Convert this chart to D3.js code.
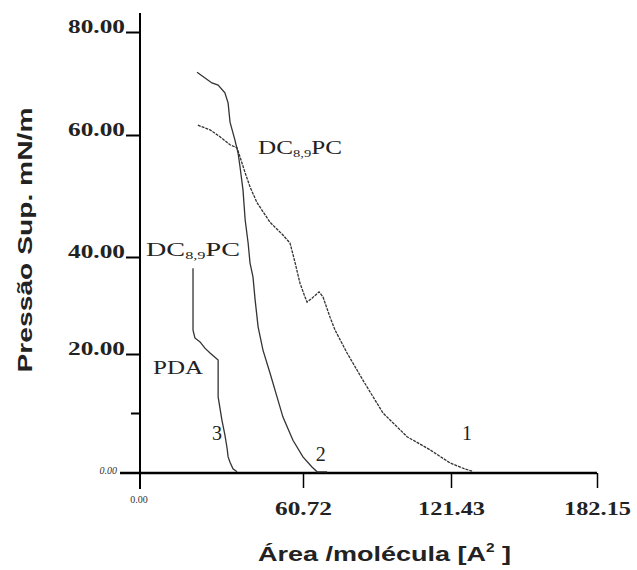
<!DOCTYPE html>
<html>
<head>
<meta charset="utf-8">
<script src="https://cdn.jsdelivr.net/npm/d3@7"></script>
<style>
  html, body { margin: 0; padding: 0; background: #fff; }
  svg { display: block; }
</style>
</head>
<body>
<div id="chart"></div>
<script>
// ---- data (area Å², surface pressure mN/m) ----
const xTickValues = [0, 60.72, 121.43, 182.15];
const xTickLabels = ["0.00", "60.72", "121.43", "182.15"];
const yTickValues = [0, 20, 40, 60, 80];
const yTickLabels = ["0.00", "20.00", "40.00", "60.00", "80.00"];

const curve1Area = [21.8, 26.3, 30.0, 33.7, 36.3, 39.3, 41.1, 43.7, 48.5, 53.3, 55.9, 57.8, 59.6, 61.5, 62.4, 64.4, 67.3, 68.9, 71.8, 73.9, 78.8, 85.3, 93.5, 103.4, 112.8, 121.0, 126.4, 130.2];
const curve1Pres = [61.9, 61.0, 59.7, 58.4, 57.9, 53.8, 51.5, 48.9, 45.7, 43.6, 42.3, 38.8, 34.6, 31.8, 30.7, 31.5, 32.8, 31.8, 27.6, 24.9, 20.2, 15.6, 10.1, 6.1, 3.9, 1.7, 0.8, 0.3];

const curve2Area = [21.5, 27.0, 29.3, 31.8, 33.0, 33.7, 35.5, 36.7, 37.4, 38.5, 39.3, 40.4, 41.1, 42.2, 43.0, 44.1, 45.9, 48.5, 51.1, 53.3, 57.0, 60.7, 64.4, 66.5, 70.6];
const curve2Pres = [72.2, 70.1, 69.7, 68.2, 66.2, 62.5, 59.2, 57.0, 54.8, 51.0, 46.1, 42.3, 38.8, 35.9, 31.1, 25.6, 20.8, 16.8, 12.8, 9.4, 5.5, 2.7, 1.0, 0.2, 0.2];

const curve3Area = [20.0, 20.0, 20.0, 20.7, 22.6, 24.4, 26.3, 29.3, 29.3, 30.7, 31.8, 32.6, 33.0, 33.7, 34.8, 36.3];
const curve3Pres = [37.7, 33.8, 24.9, 23.3, 22.5, 21.2, 20.2, 19.0, 12.8, 8.9, 6.4, 4.2, 2.7, 1.8, 0.7, 0.2];

const curveNumbers = ["1", "2", "3"];
const curveNumberAt = [[126, 5.5], [66, 2.0], [27, 5.5]];

// ---- layout ----
const W = 637, H = 570;
const svg = d3.select("#chart").append("svg").attr("width", W).attr("height", H);

// the scanned figure has slightly uneven tick spacing: piecewise linear scales
const x = d3.scaleLinear().domain(xTickValues).range([139, 303, 451, 597]);
const y = d3.scaleLinear().domain(yTickValues).range([473, 354, 257, 135, 32]);

const serifBold = "'Liberation Serif', 'Times New Roman', serif";
const sansBold = "'Liberation Sans', Arial, sans-serif";

// ---- axes ----
const yAxis = d3.axisLeft(y)
  .tickValues([20, 40, 60, 80])
  .tickSize(14)
  .tickFormat((d) => yTickLabels[yTickValues.indexOf(d)]);
const gy = svg.append("g").attr("transform", "translate(140,0)").call(yAxis);
gy.select(".domain").remove();
gy.selectAll(".tick line").attr("stroke", "#000").attr("stroke-width", 2);
gy.selectAll(".tick text")
  .attr("x", -15).attr("dy", 0)
  .attr("font-family", serifBold).attr("font-weight", "bold")
  .attr("font-size", 19).attr("fill", "#222")
  .attr("textLength", 57).attr("lengthAdjust", "spacingAndGlyphs");

// minor tick at 10
svg.append("line")
  .attr("x1", 131).attr("x2", 140).attr("y1", y(10)).attr("y2", y(10))
  .attr("stroke", "#000").attr("stroke-width", 2);

// y axis line (extends above 80 and below 0)
svg.append("line")
  .attr("x1", 140).attr("x2", 140).attr("y1", 13).attr("y2", 489)
  .attr("stroke", "#000").attr("stroke-width", 2);

// x axis
const xAxis = d3.axisBottom(x)
  .tickValues(xTickValues.slice(1))
  .tickSize(15)
  .tickFormat((d) => xTickLabels[xTickValues.indexOf(d)]);
const gx = svg.append("g").attr("transform", "translate(0,473)").call(xAxis);
gx.select(".domain").remove();
gx.selectAll(".tick line").attr("stroke", "#000").attr("stroke-width", 1.5);
gx.selectAll(".tick text")
  .attr("y", 42).attr("dy", 0)
  .attr("font-family", serifBold).attr("font-weight", "bold")
  .attr("font-size", 19).attr("fill", "#222")
  .attr("textLength", (d) => d === 60.72 ? 57 : 67)
  .attr("lengthAdjust", "spacingAndGlyphs");

svg.append("line")
  .attr("x1", 120).attr("x2", x(182.15)).attr("y1", 473).attr("y2", 473)
  .attr("stroke", "#000").attr("stroke-width", 2.5);

// small zero labels
svg.append("text")
  .attr("x", 117).attr("y", 474)
  .attr("text-anchor", "end")
  .attr("font-family", serifBold).attr("font-style", "italic")
  .attr("font-size", 10).attr("fill", "#333")
  .text(yTickLabels[0]);
svg.append("text")
  .attr("x", x(0)).attr("y", 503)
  .attr("text-anchor", "middle")
  .attr("font-family", serifBold)
  .attr("font-size", 10).attr("fill", "#333")
  .text(xTickLabels[0]);

// ---- curves ----
const line = d3.line().x((d) => x(d[0])).y((d) => y(d[1]));
const curves = [
  d3.zip(curve1Area, curve1Pres),
  d3.zip(curve2Area, curve2Pres),
  d3.zip(curve3Area, curve3Pres)
];
svg.append("g").selectAll("path").data(curves).join("path")
  .attr("d", line)
  .attr("fill", "none")
  .attr("stroke", "#333")
  .attr("stroke-width", 1.3)
  .attr("stroke-dasharray", (d, i) => i === 0 ? "3,1" : null);

// ---- curve labels ----
const serif = "'Liberation Serif', 'Times New Roman', serif";
function lipidLabel(px, py, len) {
  const t = svg.append("text")
    .attr("x", px).attr("y", py)
    .attr("font-family", serif).attr("font-size", 19).attr("fill", "#222")
    .attr("textLength", len).attr("lengthAdjust", "spacingAndGlyphs");
  t.append("tspan").text("DC");
  t.append("tspan").attr("font-size", 11).attr("dy", 3).text("8,9");
  t.append("tspan").attr("dy", -3).text("PC");
}
lipidLabel(258, 154, 84);
lipidLabel(146, 256, 94);

svg.append("text")
  .attr("x", 153).attr("y", 374)
  .attr("font-family", serif).attr("font-size", 19).attr("fill", "#222")
  .attr("textLength", 50).attr("lengthAdjust", "spacingAndGlyphs")
  .text("PDA");

svg.append("g").selectAll("text").data(curveNumbers).join("text")
  .attr("x", (d, i) => x(curveNumberAt[i][0]))
  .attr("y", (d, i) => y(curveNumberAt[i][1]))
  .attr("font-family", serif).attr("font-size", 20).attr("fill", "#222")
  .text((d) => d);

// ---- axis titles ----
svg.append("text")
  .attr("transform", "translate(32,240) rotate(-90)")
  .attr("text-anchor", "middle")
  .attr("font-family", sansBold).attr("font-weight", "bold")
  .attr("font-size", 21).attr("fill", "#222")
  .attr("textLength", 265).attr("lengthAdjust", "spacingAndGlyphs")
  .text("Pressão Sup. mN/m");

const xt = svg.append("text")
  .attr("x", 258).attr("y", 561)
  .attr("font-family", sansBold).attr("font-weight", "bold")
  .attr("font-size", 21).attr("fill", "#222")
  .attr("textLength", 253).attr("lengthAdjust", "spacingAndGlyphs");
xt.append("tspan").text("Área /molécula [A");
xt.append("tspan").attr("font-size", 12).attr("dy", -9).text("2");
xt.append("tspan").attr("dy", 9).text(" ]");
</script>
</body>
</html>
